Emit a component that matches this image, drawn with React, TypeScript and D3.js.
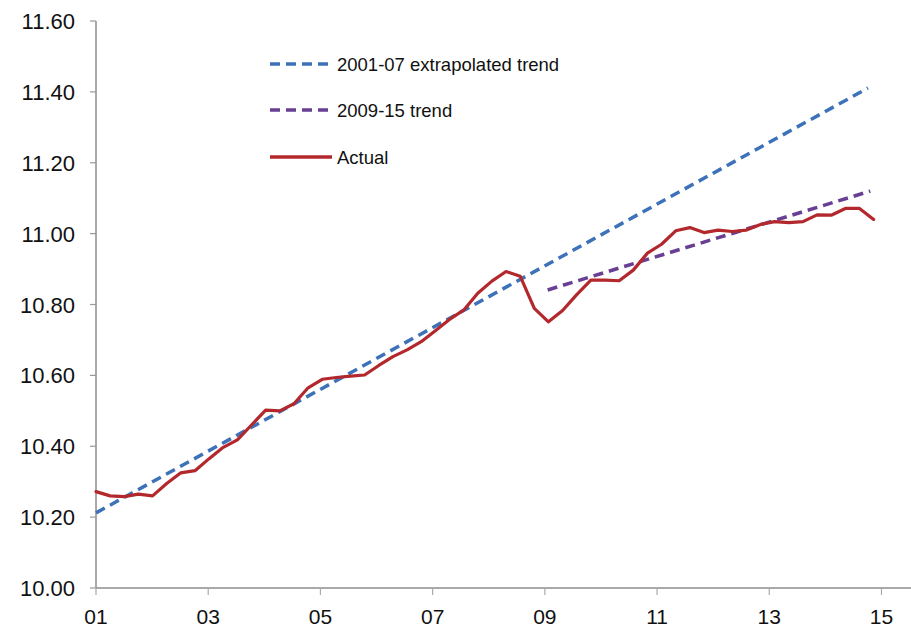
import React from "react";
import * as d3 from "d3";

const W = 911;
const H = 627;

// Quarterly observations, 2001Q1 .. 2014Q4
const quarterIndex = d3.range(56);
const actualValues = [
  10.272, 10.26, 10.258, 10.265, 10.26, 10.295, 10.325, 10.331,
  10.365, 10.397, 10.418, 10.46, 10.502, 10.5, 10.52, 10.565,
  10.589, 10.594, 10.598, 10.601, 10.628, 10.653, 10.672, 10.695,
  10.726, 10.758, 10.784, 10.832, 10.866, 10.893, 10.88, 10.789,
  10.751, 10.783, 10.828, 10.869, 10.869, 10.867, 10.897, 10.945,
  10.97, 11.008, 11.017, 11.003, 11.01, 11.006, 11.01, 11.026,
  11.034, 11.031, 11.034, 11.053, 11.052, 11.071, 11.071, 11.04,
];

const trend0107Years = [2001.0, 2014.76];
const trend0107Values = [10.212, 11.411];
const trend0915Years = [2009.05, 2014.8];
const trend0915Values = [10.841, 11.12];

const yTicks = [10.0, 10.2, 10.4, 10.6, 10.8, 11.0, 11.2, 11.4, 11.6];
const xTickYears = [2001, 2003, 2005, 2007, 2009, 2011, 2013, 2015];
const xTickLabels = ["01", "03", "05", "07", "09", "11", "13", "15"];

const legendLabels = ["2001-07 extrapolated trend", "2009-15 trend", "Actual"];

const BLUE = "#3D72B9";
const PURPLE = "#683F92";
const RED = "#B3282D";

export default function App() {
  const x = d3.scaleLinear().domain([2001, 2015]).range([96, 881.5]);
  const y = d3.scaleLinear().domain([10, 11.6]).range([588, 21]);

  const quarterYear = (i: number) => 2001 + i * 0.252;

  const line = d3
    .line<[number, number]>()
    .x((d) => x(d[0]))
    .y((d) => y(d[1]));

  const actualPts: [number, number][] = quarterIndex.map((i) => [quarterYear(i), actualValues[i]]);
  const t1: [number, number][] = trend0107Years.map((yr, i) => [yr, trend0107Values[i]]);
  const t2: [number, number][] = trend0915Years.map((yr, i) => [yr, trend0915Values[i]]);

  const font = "Arial, 'Liberation Sans', sans-serif";
  const legendRows = [64, 110, 157];
  const legendColors = [BLUE, PURPLE, RED];
  const legendDash = ["10,6", "10,6", null];

  return (
    <svg
      width={W}
      height={H}
      style={{ position: "absolute", left: 0, top: 0, background: "#fff" }}
      fontFamily={font}
    >
      <rect x={0} y={0} width={W} height={H} fill="#fff" />
      {/* y axis */}
      <line x1={96} x2={96} y1={y(11.6)} y2={y(10)} stroke="#8c8c8c" strokeWidth={1.5} />
      {yTicks.map((t) => (
        <g key={t}>
          <line x1={90} x2={96} y1={y(t)} y2={y(t)} stroke="#9a9a9a" strokeWidth={1.2} />
          <text x={75} y={y(t) + 8} fontSize={22} textAnchor="end" fill="#111">
            {t.toFixed(2)}
          </text>
        </g>
      ))}
      {/* x axis */}
      <line x1={96} x2={W} y1={y(10)} y2={y(10)} stroke="#8c8c8c" strokeWidth={1.5} />
      {xTickYears.map((yr, i) => (
        <g key={yr}>
          <line x1={x(yr)} x2={x(yr)} y1={588} y2={595} stroke="#aaaaaa" strokeWidth={1.2} />
          <text x={x(yr)} y={624} fontSize={21} textAnchor="middle" fill="#111">
            {xTickLabels[i]}
          </text>
        </g>
      ))}

      {/* series */}
      <path d={line(t1) || ""} fill="none" stroke={BLUE} strokeWidth={3.5} strokeDasharray="10,6" />
      <path d={line(t2) || ""} fill="none" stroke={PURPLE} strokeWidth={3.5} strokeDasharray="10,6" />
      <path
        d={line(actualPts) || ""}
        fill="none"
        stroke={RED}
        strokeWidth={3.2}
        strokeLinejoin="round"
        strokeLinecap="round"
      />

      {/* legend */}
      {legendLabels.map((lab, i) => (
        <g key={lab}>
          <line
            x1={270}
            x2={332}
            y1={legendRows[i]}
            y2={legendRows[i]}
            stroke={legendColors[i]}
            strokeWidth={3.5}
            strokeDasharray={legendDash[i] || undefined}
          />
          <text x={337} y={legendRows[i] + 6.5} fontSize={18.5} fill="#111">
            {lab}
          </text>
        </g>
      ))}
    </svg>
  );
}
